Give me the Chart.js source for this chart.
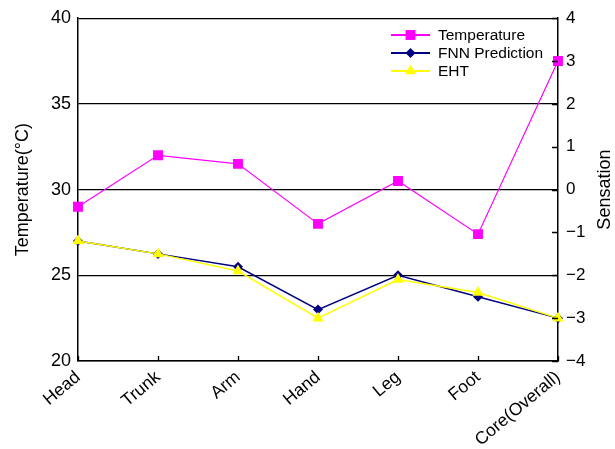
<!DOCTYPE html>
<html>
<head>
<meta charset="utf-8">
<script src="https://cdn.jsdelivr.net/npm/chart.js@4/dist/chart.umd.min.js"></script>
<style>
  html, body { margin: 0; padding: 0; background: #fff; }
  #wrap { width: 615px; height: 449px; position: relative; }
</style>
</head>
<body>
<div id="wrap"><canvas id="c" width="615" height="449"></canvas></div>
<script>
// Body regions along the x axis
const categories = ['Head', 'Trunk', 'Arm', 'Hand', 'Leg', 'Foot', 'Core(Overall)'];

// Skin / core temperature (°C), left axis
const temperature = [29.0, 32.0, 31.5, 28.0, 30.5, 27.4, 37.5];
// Thermal sensation, right axis
const fnnPrediction = [-1.2, -1.5, -1.8, -2.8, -2.0, -2.5, -3.0];
const eht = [-1.2, -1.5, -1.9, -3.0, -2.1, -2.4, -3.0];

// Tick values
const tempTicks = [20, 25, 30, 35, 40];
const sensationTicks = [-4, -3, -2, -1, 0, 1, 2, 3, 4];

const FONT = "'Liberation Sans', Arial, Helvetica, sans-serif";

const fmtSigned = v => (v < 0 ? '\u2212' + Math.abs(v) : String(v));

// Short inward tick marks on the right and bottom axes
const innerTicks = {
  id: 'innerTicks',
  afterDraw(chart) {
    const { ctx, chartArea: a } = chart;
    const yR = chart.scales.yR, x = chart.scales.x;
    ctx.save();
    ctx.strokeStyle = '#000';
    ctx.lineWidth = 1.3;
    ctx.beginPath();
    sensationTicks.forEach(v => {
      const py = Math.round(yR.getPixelForValue(v)) + 0.5;
      ctx.moveTo(a.right - 6, py);
      ctx.lineTo(a.right, py);
    });
    categories.forEach((c, i) => {
      const px = Math.round(x.getPixelForValue(i)) + 0.5;
      ctx.moveTo(px, a.bottom);
      ctx.lineTo(px, a.bottom - 5);
    });
    ctx.stroke();
    ctx.restore();
  }
};

// Axis titles, both reading bottom to top
const axisTitles = {
  id: 'axisTitles',
  afterDraw(chart) {
    const { ctx, chartArea: a } = chart;
    const cy = (a.top + a.bottom) / 2;
    const drawTitle = (text, x, y) => {
      ctx.save();
      ctx.fillStyle = '#000';
      ctx.font = '18px ' + FONT;
      ctx.textAlign = 'center';
      ctx.textBaseline = 'middle';
      ctx.translate(x, y);
      ctx.rotate(-Math.PI / 2);
      ctx.fillText(text, 0, 0);
      ctx.restore();
    };
    drawTitle('Temperature(\u00B0C)', 23, cy);
    drawTitle('Sensation', 605, cy);
  }
};

// Legend box in the upper right of the plot
const insideLegend = {
  id: 'insideLegend',
  afterDraw(chart) {
    const { ctx } = chart;
    const x0 = 391, x1 = 430, tx = 438;
    const rowY = [35, 53, 71];
    chart.data.datasets.forEach((ds, i) => {
      const y = rowY[i];
      ctx.save();
      ctx.strokeStyle = ds.borderColor;
      ctx.lineWidth = 2;
      ctx.beginPath();
      ctx.moveTo(x0, y);
      ctx.lineTo(x1, y);
      ctx.stroke();
      ctx.fillStyle = ds.pointBackgroundColor;
      ctx.strokeStyle = ds.pointBorderColor;
      ctx.lineWidth = 0.01;
      Chart.helpers.drawPoint(ctx, {
        pointStyle: ds.pointStyle,
        radius: ds.pointRadius,
        borderWidth: 0
      }, (x0 + x1) / 2, y);
      ctx.fillStyle = '#000';
      ctx.font = '15.5px ' + FONT;
      ctx.textAlign = 'left';
      ctx.textBaseline = 'middle';
      ctx.fillText(ds.label, tx, y + 1);
      ctx.restore();
    });
  }
};

const ctx = document.getElementById('c').getContext('2d');
new Chart(ctx, {
  type: 'line',
  data: {
    labels: categories,
    datasets: [
      {
        label: 'Temperature',
        data: temperature,
        yAxisID: 'y',
        borderColor: '#ff00ff',
        backgroundColor: '#ff00ff',
        pointBackgroundColor: '#ff00ff',
        pointBorderColor: '#ff00ff',
        borderWidth: 1.2,
        pointStyle: 'rect',
        pointRadius: 7,
        pointBorderWidth: 0,
        tension: 0,
        order: 2
      },
      {
        label: 'FNN Prediction',
        data: fnnPrediction,
        yAxisID: 'yR',
        borderColor: '#000080',
        backgroundColor: '#000080',
        pointBackgroundColor: '#000080',
        pointBorderColor: '#000080',
        borderWidth: 1.5,
        pointStyle: 'rectRot',
        pointRadius: 5,
        pointBorderWidth: 0,
        tension: 0,
        order: 1
      },
      {
        label: 'EHT',
        data: eht,
        yAxisID: 'yR',
        borderColor: '#ffff00',
        backgroundColor: '#ffff00',
        pointBackgroundColor: '#ffff00',
        pointBorderColor: '#ffff00',
        borderWidth: 1.5,
        pointStyle: 'triangle',
        pointRadius: 6.5,
        pointBorderWidth: 0,
        tension: 0,
        order: 0
      }
    ]
  },
  options: {
    responsive: false,
    animation: false,
    events: [],
    layout: { padding: { top: 15, left: 0, right: 0, bottom: 0 } },
    plugins: { legend: { display: false }, tooltip: { enabled: false } },
    scales: {
      x: {
        type: 'category',
        offset: false,
        grid: { display: false, drawTicks: false },
        border: { display: true, color: '#000', width: 1.5 },
        ticks: {
          color: '#000',
          font: { family: FONT, size: 17.5 },
          minRotation: 40,
          maxRotation: 40,
          autoSkip: false,
          padding: 6
        },
        afterFit(s) { s.height = 88; }
      },
      y: {
        position: 'left',
        min: 20,
        max: 40,
        afterBuildTicks(s) { s.ticks = tempTicks.map(v => ({ value: v })); },
        grid: { color: '#000', lineWidth: 1.3, drawTicks: false },
        border: { display: true, color: '#000', width: 1.5 },
        ticks: {
          color: '#000',
          font: { family: FONT, size: 18 },
          padding: 7
        },
        afterFit(s) { s.width = 78; }
      },
      yR: {
        position: 'right',
        min: -4,
        max: 4,
        afterBuildTicks(s) { s.ticks = sensationTicks.map(v => ({ value: v })); },
        grid: { drawOnChartArea: false, drawTicks: false },
        border: { display: true, color: '#000', width: 1.5 },
        ticks: {
          color: '#000',
          font: { family: FONT, size: 17 },
          padding: 8,
          callback: v => fmtSigned(v)
        },
        afterFit(s) { s.width = 57; }
      }
    }
  },
  plugins: [innerTicks, axisTitles, insideLegend]
});
</script>
</body>
</html>
